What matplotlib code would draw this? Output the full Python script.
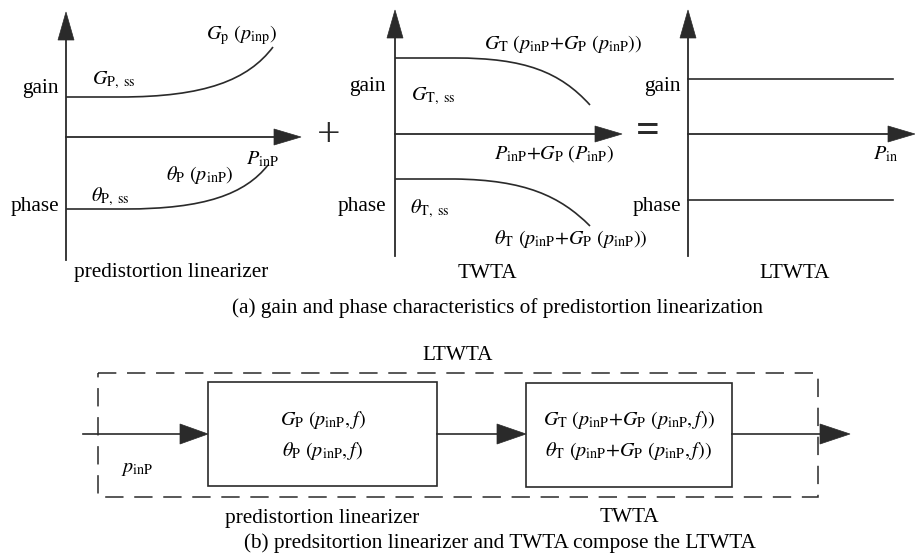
import matplotlib.pyplot as plt
from matplotlib.path import Path
from matplotlib.patches import PathPatch, Polygon, Rectangle

plt.rcParams['font.family'] = ['Liberation Serif', 'DejaVu Serif']
plt.rcParams['mathtext.fontset'] = 'stix'

INK = '#2a2a2a'
FS = 15.3   # plain text
MS = 14.5   # math labels

# axes of the three characteristic panels: (x of vertical axis, y of horizontal axis, arrow tip x)
axis_x = [66, 395, 688]
axis_y = [137, 134, 134]
axis_tip = [301, 622, 915]
axis_top = [12, 10, 10]
axis_bottom = [260, 256, 256]

# curve control points (start, flat end, ctrl1, ctrl2, end)
gain_p = [(66, 97), (120, 97), (205, 97), (248, 80), (273, 47)]
phase_p = [(66, 209), (125, 209), (205, 209), (245, 194), (268, 165)]
gain_t = [(395, 58), (455, 58), (525, 58), (560, 72), (590, 105)]
phase_t = [(395, 179), (455, 179), (525, 180), (560, 196), (590, 226)]
gain_l = [(688, 79), (893, 79)]
phase_l = [(688, 200), (893, 200)]

panel_names = ['predistortion linearizer', 'TWTA', 'LTWTA']
panel_name_x = [171, 487, 795]
caption_a = '(a) gain and phase characteristics of predistortion linearization'
caption_b = '(b) predsitortion linearizer and TWTA compose the LTWTA'

# block diagram
frame = (98, 373, 818, 497)
box_p = (208, 382, 437, 486)
box_t = (526, 383, 732, 487)
signal_y = 434
box_p_text = [r'$G_{\mathrm{P}}\ (p_{\mathrm{inP}}, f)$',
              r'$\theta_{\mathrm{P}}\ (p_{\mathrm{inP}}, f)$']
box_t_text = [r'$G_{\mathrm{T}}\ (p_{\mathrm{inP}}{+}G_{\mathrm{P}}\ (p_{\mathrm{inP}}, f))$',
              r'$\theta_{\mathrm{T}}\ (p_{\mathrm{inP}}{+}G_{\mathrm{P}}\ (p_{\mathrm{inP}}, f))$']


def arrow_head(ax, tip, direction, length=26, half=7.5):
    x, y = tip
    if direction == 'up':
        pts = [(x, y), (x - half, y + length), (x + half, y + length)]
    else:
        pts = [(x, y), (x - length, y - half), (x - length, y + half)]
    ax.add_patch(Polygon(pts, closed=True, fc=INK, ec=INK, lw=0.5, zorder=3))


def curve(ax, pts):
    verts = [pts[0], pts[1], pts[2], pts[3], pts[4]]
    codes = [Path.MOVETO, Path.LINETO, Path.CURVE4, Path.CURVE4, Path.CURVE4]
    ax.add_patch(PathPatch(Path(verts, codes), fc='none', ec=INK, lw=1.2))


fig = plt.figure(figsize=(9.15, 5.53), dpi=100)
ax = fig.add_axes([0, 0, 1, 1])
ax.set_xlim(0, 915)
ax.set_ylim(553, 0)
ax.axis('off')

for i in range(3):
    x0, y0 = axis_x[i], axis_y[i]
    ax.plot([x0, x0], [axis_bottom[i], axis_top[i] + 20], color=INK, lw=1.3)
    arrow_head(ax, (x0, axis_top[i]), 'up', length=28, half=8)
    ax.plot([x0, axis_tip[i] - 20], [y0, y0], color=INK, lw=1.3)
    arrow_head(ax, (axis_tip[i], y0), 'right', length=27, half=8)
    ax.text(panel_name_x[i], 273, panel_names[i], fontsize=FS, ha='center', va='center')

curve(ax, gain_p)
curve(ax, phase_p)
curve(ax, gain_t)
curve(ax, phase_t)
for line in (gain_l, phase_l):
    ax.plot([line[0][0], line[1][0]], [line[0][1], line[1][1]], color=INK, lw=1.2)

# gain / phase labels
for gx, gy, py in [(59, 89, 207), (386, 87, 207), (681, 87, 206)]:
    ax.text(gx, gy, 'gain', fontsize=FS, ha='right', va='center')
    ax.text(gx, py, 'phase', fontsize=FS, ha='right', va='center')

ax.text(92, 80, r'$G_{\mathrm{P,\ ss}}$', fontsize=MS, ha='left', va='center')
ax.text(206, 35, r'$G_{\mathrm{p}}\ (p_{\mathrm{inp}})$', fontsize=MS, ha='left', va='center')
ax.text(246, 159, r'$P_{\mathrm{inP}}$', fontsize=MS, ha='left', va='center')
ax.text(166, 175, r'$\theta_{\mathrm{P}}\ (p_{\mathrm{inP}})$', fontsize=MS, ha='left', va='center')
ax.text(91, 197, r'$\theta_{\mathrm{P,\ ss}}$', fontsize=MS, ha='left', va='center')

ax.text(484, 44, r'$G_{\mathrm{T}}\ (p_{\mathrm{inP}}{+}G_{\mathrm{P}}\ (p_{\mathrm{inP}}))$',
        fontsize=MS, ha='left', va='center')
ax.text(411, 96, r'$G_{\mathrm{T,\ ss}}$', fontsize=MS, ha='left', va='center')
ax.text(494, 154, r'$P_{\mathrm{inP}}{+}G_{\mathrm{P}}\ (P_{\mathrm{inP}})$',
        fontsize=MS, ha='left', va='center')
ax.text(410, 209, r'$\theta_{\mathrm{T,\ ss}}$', fontsize=MS, ha='left', va='center')
ax.text(494, 239, r'$\theta_{\mathrm{T}}\ (p_{\mathrm{inP}}{+}G_{\mathrm{P}}\ (p_{\mathrm{inP}}))$',
        fontsize=MS, ha='left', va='center')
ax.text(873, 154, r'$P_{\mathrm{in}}$', fontsize=MS, ha='left', va='center')

ax.text(329, 136, '+', fontsize=30, ha='center', va='center', color=INK)
ax.text(648, 132, '=', fontsize=30, ha='center', va='center', color=INK,
        fontweight='bold')

ax.text(497, 308, caption_a, fontsize=FS, ha='center', va='center')

# block diagram (b)
fx0, fy0, fx1, fy1 = frame
ax.add_patch(Rectangle((fx0, fy0), fx1 - fx0, fy1 - fy0, fc='none', ec=INK,
                       lw=1.1, ls=(0, (12, 7))))
ax.text(458, 356, 'LTWTA', fontsize=FS, ha='center', va='center')
for bx0, by0, bx1, by1 in (box_p, box_t):
    ax.add_patch(Rectangle((bx0, by0), bx1 - bx0, by1 - by0, fc='white', ec=INK, lw=1.2))

ax.plot([83, box_p[0] - 20], [signal_y, signal_y], color=INK, lw=1.2)
arrow_head(ax, (box_p[0], signal_y), 'right', length=28, half=10)
ax.plot([box_p[2], box_t[0] - 20], [signal_y, signal_y], color=INK, lw=1.2)
arrow_head(ax, (box_t[0], signal_y), 'right', length=29, half=10)
ax.plot([box_t[2], 830], [signal_y, signal_y], color=INK, lw=1.2)
arrow_head(ax, (850, signal_y), 'right', length=30, half=10)

cx_p = (box_p[0] + box_p[2]) / 2
cx_t = (box_t[0] + box_t[2]) / 2
for k in range(2):
    ax.text(cx_p, 420 + 31 * k, box_p_text[k], fontsize=MS, ha='center', va='center')
    ax.text(cx_t, 420 + 31 * k, box_t_text[k], fontsize=MS, ha='center', va='center')

ax.text(121, 468, r'$p_{\mathrm{inP}}$', fontsize=MS, ha='left', va='center')
ax.text(322, 518, 'predistortion linearizer', fontsize=FS, ha='center', va='center')
ax.text(629, 518, 'TWTA', fontsize=FS, ha='center', va='center')
ax.text(500, 543, caption_b, fontsize=FS, ha='center', va='center')

fig.savefig('out.png', dpi=100)
